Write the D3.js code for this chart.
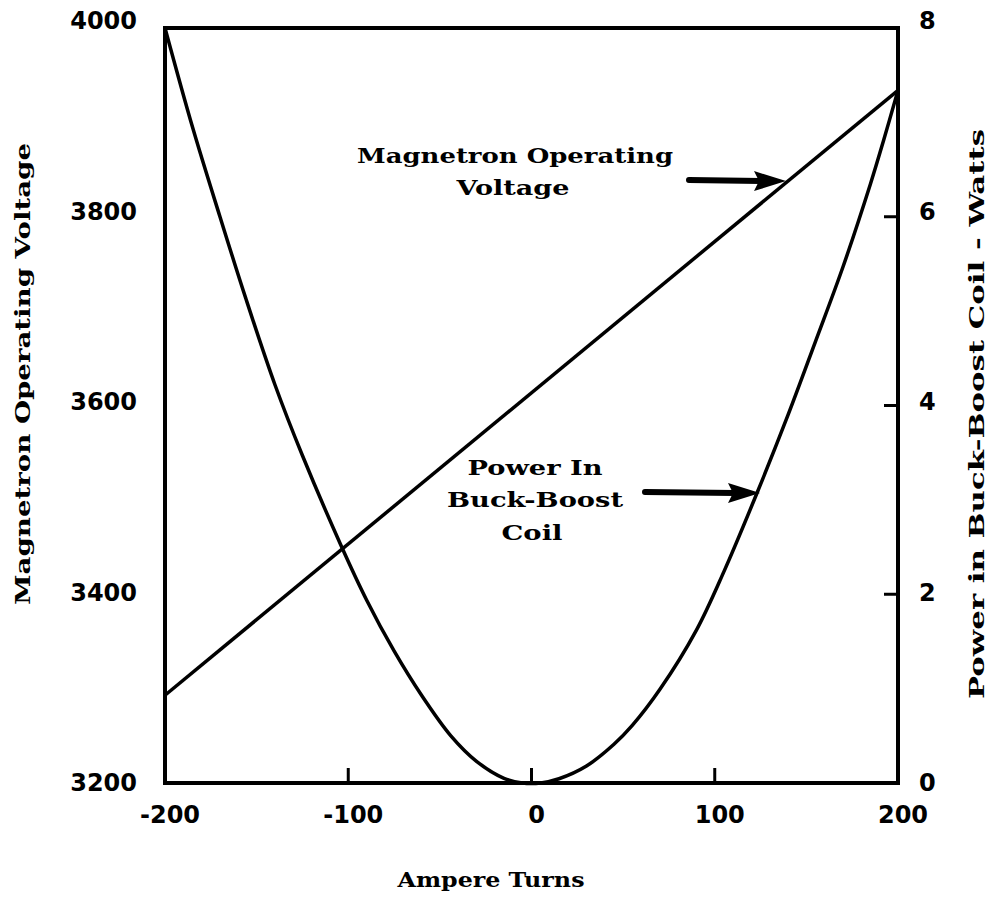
<!DOCTYPE html>
<html>
<head>
<meta charset="utf-8">
<script src="https://cdn.jsdelivr.net/npm/d3@7"></script>
<style>
  body { margin: 0; background: #fff; }
  .tick-label { font-family: "DejaVu Sans", sans-serif; font-weight: bold; font-size: 24px; fill: #000; }
  .title { font-family: "DejaVu Serif", serif; font-weight: bold; font-size: 21px; fill: #000; }
</style>
</head>
<body>
<svg id="chart"></svg>
<script>
// ampere turns vs magnetron voltage (straight line)
const voltageTurns = [-200, 200];
const voltageValues = [3293, 3934];

// ampere turns vs buck-boost coil power (watts)
const powerTurns = [-200, -185, -170, -156, -140, -125, -104, -90, -75, -60, -44, -30, -15, -5,
                    5, 15, 30, 45, 55, 70, 90, 105, 123, 140, 155, 170, 185, 192, 200];
const powerValues = [8.0, 6.95, 6.0, 5.14, 4.22, 3.47, 2.52, 1.94, 1.4, 0.93, 0.5, 0.23, 0.05, 0,
                     0, 0.045, 0.18, 0.41, 0.61, 0.99, 1.62, 2.24, 3.07, 3.9, 4.68, 5.47, 6.35, 6.8, 7.34];

const xTicks = [-200, -100, 0, 100, 200];
const leftTicks = [3200, 3400, 3600, 3800, 4000];
const rightTicks = [0, 2, 4, 6, 8];

const svg = d3.select("#chart").attr("width", 991).attr("height", 898);

const plotL = 165, plotR = 898, plotT = 28, plotB = 783;

const x = d3.scaleLinear().domain([-200, 200]).range([plotL, plotR]);
const yV = d3.scaleLinear().domain([3200, 4000]).range([plotB, plotT]);
const yP = d3.scaleLinear().domain([0, 8]).range([plotB, plotT]);
// the printed tick numbers sit a little off the tick marks
const yLabV = d3.scaleLinear().domain([3200, 4000]).range([783, 21]);
const yLabP = d3.scaleLinear().domain([0, 8]).range([783, 21]);

// frame
svg.append("rect")
    .attr("x", plotL).attr("y", plotT)
    .attr("width", plotR - plotL).attr("height", plotB - plotT)
    .attr("fill", "none").attr("stroke", "#000").attr("stroke-width", 4);

// inner ticks
xTicks.slice(1, -1).forEach(t => {
    svg.append("line").attr("x1", x(t)).attr("x2", x(t))
        .attr("y1", plotB).attr("y2", plotB - 15)
        .attr("stroke", "#000").attr("stroke-width", 3);
});
rightTicks.slice(1, -1).forEach(t => {
    svg.append("line").attr("x1", plotR).attr("x2", plotR - 14)
        .attr("y1", yP(t)).attr("y2", yP(t))
        .attr("stroke", "#000").attr("stroke-width", 3);
});

// tick labels
xTicks.forEach(t => {
    svg.append("text").attr("class", "tick-label")
        .attr("x", x(t) + 5).attr("y", 823)
        .attr("text-anchor", "middle")
        .text(t);
});
leftTicks.forEach(t => {
    svg.append("text").attr("class", "tick-label")
        .attr("x", 137).attr("y", yLabV(t))
        .attr("text-anchor", "end")
        .attr("dominant-baseline", "central")
        .text(t);
});
rightTicks.forEach(t => {
    svg.append("text").attr("class", "tick-label")
        .attr("x", 919).attr("y", yLabP(t))
        .attr("text-anchor", "start")
        .attr("dominant-baseline", "central")
        .text(t);
});

// curves
const vLine = d3.line().x(d => x(d[0])).y(d => yV(d[1]));
svg.append("path")
    .attr("d", vLine(d3.zip(voltageTurns, voltageValues)))
    .attr("fill", "none").attr("stroke", "#000").attr("stroke-width", 3.5);

const pLine = d3.line().x(d => x(d[0])).y(d => yP(d[1])).curve(d3.curveCatmullRom.alpha(0.5));
svg.append("path")
    .attr("d", pLine(d3.zip(powerTurns, powerValues)))
    .attr("fill", "none").attr("stroke", "#000").attr("stroke-width", 3.5);

// text stretched to the printed width (wide Clarendon-like face)
const label = (s, cx, y, len, rotate) => {
    const t = svg.append("text").attr("class", "title")
        .attr("textLength", len).attr("lengthAdjust", "spacingAndGlyphs")
        .text(s);
    if (rotate) {
        t.attr("transform", `translate(${cx},${y}) rotate(-90)`).attr("x", -len / 2).attr("y", 0);
    } else {
        t.attr("x", cx - len / 2).attr("y", y);
    }
};

// axis titles
label("Ampere Turns", 491, 887, 187);
label("Magnetron Operating Voltage", 30, 374, 462, true);
label("Power in Buck-Boost Coil - Watts", 984, 414, 570, true);

// annotations
const arrow = (x1, y1, x2, y2) => {
    svg.append("line").attr("x1", x1).attr("y1", y1).attr("x2", x2 - 25).attr("y2", y2)
        .attr("stroke", "#000").attr("stroke-width", 6).attr("stroke-linecap", "round");
    svg.append("path")
        .attr("d", `M${x2},${y2} L${x2 - 32},${y2 - 10} L${x2 - 27},${y2} L${x2 - 32},${y2 + 10} Z`)
        .attr("fill", "#000");
};

label("Magnetron Operating", 515, 163, 316);
label("Voltage", 513, 195, 113);
arrow(689, 180, 786, 181);

label("Power In", 535, 475, 135);
label("Buck-Boost", 535, 507, 176);
label("Coil", 532, 540, 61);
arrow(645, 492, 760, 493);
</script>
</body>
</html>
